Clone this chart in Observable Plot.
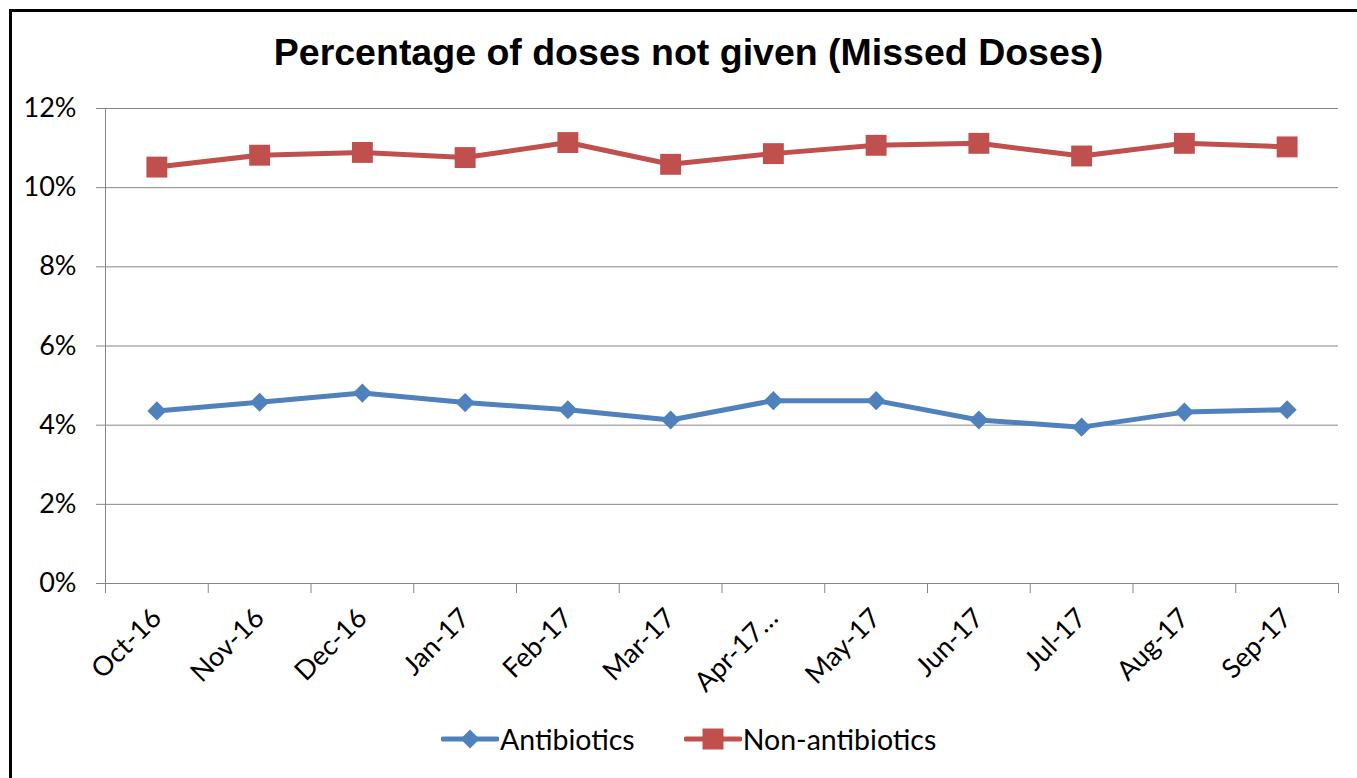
<!DOCTYPE html>
<html>
<head>
<meta charset="utf-8">
<script src="https://cdn.jsdelivr.net/npm/d3@7"></script>
<script src="https://cdn.jsdelivr.net/npm/@observablehq/plot@0.6"></script>
<style>
  html, body { margin: 0; padding: 0; background: #fff; }
  #wrap { position: relative; width: 1357px; height: 778px; overflow: hidden; }
  #frame { position: absolute; left: 9px; top: 9px; width: 1400px; height: 800px;
           border-left: 3px solid #000; border-top: 3px solid #000; }
  #title { position: absolute; left: 10px; width: 1357px; top: 31px; text-align: center;
           font-family: "Liberation Sans", Arial, sans-serif; font-weight: bold; font-size: 37.5px; color: #000; line-height: 1.15; }
  #chart { position: absolute; left: 0; top: 0; }
  #legend { position: absolute; left: 441px; top: 722px; display: flex; align-items: center;
            font-family: Lato, sans-serif; font-size: 28.5px; color: #000; }
  .item { display: flex; align-items: center; }
  .item svg { display: block; }
</style>
</head>
<body>
<div id="wrap">
  <div id="frame"></div>
  <div id="title">Percentage of doses not given (Missed Doses)</div>
  <div id="chart"></div>
  <div id="legend"></div>
</div>
<script>
const categories = ["Oct-16","Nov-16","Dec-16","Jan-17","Feb-17","Mar-17","Apr-17\u2026","May-17","Jun-17","Jul-17","Aug-17","Sep-17"];
const antibiotics = [0.0436,0.0458,0.0481,0.0457,0.0439,0.0413,0.0462,0.0462,0.0413,0.0395,0.0433,0.0439];
const nonAntibiotics = [0.1052,0.1082,0.1089,0.1076,0.1114,0.1059,0.1086,0.1107,0.1112,0.1080,0.1112,0.1103];
const seriesNames = ["Antibiotics","Non-antibiotics"];
const seriesColors = ["#4F81BD","#C0504D"];
const yTicks = [0,0.02,0.04,0.06,0.08,0.10,0.12];

const idx = categories.map((_, i) => i);
const bounds = [...idx.map(i => i - 0.5), categories.length - 0.5];
const data = [
  ...antibiotics.map((v, i) => ({i, series: seriesNames[0], value: v})),
  ...nonAntibiotics.map((v, i) => ({i, series: seriesNames[1], value: v}))
];
const grid = "#868686";

const chart = Plot.plot({
  width: 1357, height: 700,
  marginLeft: 105, marginRight: 19, marginTop: 108, marginBottom: 117,
  style: {fontFamily: "Lato, sans-serif", fontSize: "27px", color: "#000", background: "transparent", overflow: "visible"},
  x: {type: "linear", domain: [-0.5, categories.length - 0.5]},
  y: {domain: [0, 0.12]},
  color: {domain: seriesNames, range: seriesColors},
  symbol: {domain: seriesNames, range: ["diamond2", "square"]},
  marks: [
    Plot.gridY(yTicks, {stroke: grid, strokeOpacity: 1, strokeWidth: 1}),
    Plot.axisY(yTicks, {tickFormat: d3.format(".0%"), tickSize: 9, tickPadding: 20, stroke: grid, strokeOpacity: 1, label: null, fontSize: 27}),
    Plot.ruleX([-0.5], {stroke: grid, strokeWidth: 1}),
    Plot.ruleY([0], {stroke: grid, strokeWidth: 1}),
    Plot.axisX(bounds, {tickSize: 10, tickFormat: () => "", stroke: grid, strokeOpacity: 1, label: null}),
    Plot.axisX(idx, {tickSize: 0, tickPadding: 30, tickRotate: -45, tickFormat: i => categories[i], label: null, fontSize: 27}),
    Plot.line(data, {x: "i", y: "value", z: "series", stroke: "series", strokeWidth: 5}),
    Plot.dot(data.filter(d => d.series === seriesNames[0]), {x: "i", y: "value", fill: "series", symbol: "series", r: 8.6, stroke: null}),
    Plot.dot(data.filter(d => d.series === seriesNames[1]), {x: "i", y: "value", fill: "series", symbol: "series", r: 11.8, stroke: null})
  ]
});
document.getElementById("chart").appendChild(chart);

// legend
const legend = document.getElementById("legend");
const sw = d3.scaleOrdinal(seriesNames, seriesColors);
seriesNames.forEach((name, k) => {
  const item = document.createElement("div");
  item.className = "item";
  if (k > 0) item.style.marginLeft = "49px";
  const s = d3.create("svg").attr("width", 58).attr("height", 30);
  s.append("line").attr("x1", 2).attr("x2", 56).attr("y1", 15).attr("y2", 15)
    .attr("stroke", sw(name)).attr("stroke-width", 5).attr("stroke-linecap", "round");
  const sym = d3.symbol(k === 0 ? d3.symbolDiamond2 : d3.symbolSquare, k === 0 ? 231 : 441);
  s.append("path").attr("d", sym()).attr("transform", "translate(29,15)").attr("fill", sw(name));
  item.appendChild(s.node());
  const t = document.createElement("span");
  t.textContent = name;
  t.style.marginLeft = "1px";
  item.appendChild(t);
  legend.appendChild(item);
});
</script>
</body>
</html>
